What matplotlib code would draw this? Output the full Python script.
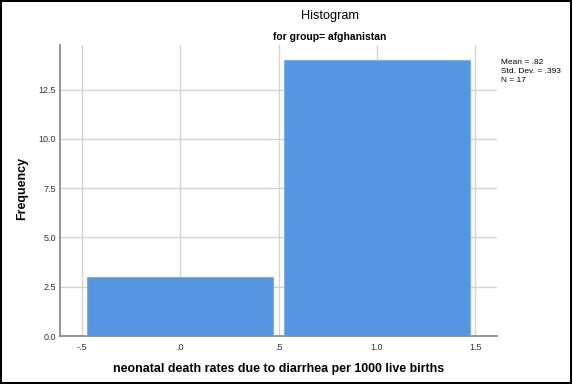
import numpy as np
import matplotlib
matplotlib.use('Agg')
import matplotlib.pyplot as plt
import matplotlib as mpl

mpl.rc('font', family='Liberation Sans')

bin_centers = [0.0, 1.0]
counts = [3, 14]
xticks = [-0.5, 0.0, 0.5, 1.0, 1.5]
xtick_labels = ['-.5', '.0', '.5', '1.0', '1.5']
yticks = [0.0, 2.5, 5.0, 7.5, 10.0, 12.5]
ytick_labels = ['0.0', '2.5', '5.0', '7.5', '10.0', '12.5']
stats_text = 'Mean = .82\nStd. Dev. = .393\nN = 17'

W, H = 573, 384
fig = plt.figure(figsize=(W/100, H/100), dpi=100)
ax = fig.add_axes([60.3/W, 1-336/H, (496.7-60.3)/W, (336-45)/H])

ax.bar(bin_centers, counts, width=0.945, color='#5596e3', edgecolor='#7aaeea', linewidth=0.8, zorder=3)

ax.set_xlim(-0.609, 1.609)
ax.set_ylim(0, 14.76)
ax.set_xticks(xticks)
ax.set_xticklabels(xtick_labels, fontsize=6.5, color='#333333')
ax.set_yticks(yticks)
ax.set_yticklabels(ytick_labels, fontsize=6.5, color='#333333')
ax.tick_params(axis='x', length=0, pad=5)
ax.tick_params(axis='y', length=0, pad=3.3)
ax.grid(True, color='#d4d4d4', linewidth=1, zorder=0)

for s in ['top', 'right']:
    ax.spines[s].set_visible(False)
for s in ['left', 'bottom']:
    ax.spines[s].set_color('#8c8c8c')
    ax.spines[s].set_linewidth(1.3)

fig.text(330/W, 1-16/H, 'Histogram', ha='center', va='center', fontsize=9.2)
fig.text(330/W, 1-37/H, 'for group= afghanistan', ha='center', va='center', fontsize=7.5, fontweight='bold')
fig.text(501/W, 1-59/H, stats_text, ha='left', va='top', fontsize=6, linespacing=1.4)
fig.text(279/W, 1-369/H, 'neonatal death rates due to diarrhea per 1000 live births', ha='center', va='center', fontsize=8.9, fontweight='bold')
fig.text(22/W, 1-188/H, 'Frequency', ha='center', va='center', rotation=90, fontsize=9, fontweight='bold')

# outer frame
fig.patches.append(plt.Rectangle((0.001, 0.002), 0.996, 0.996, transform=fig.transFigure,
                                 fill=False, edgecolor='black', linewidth=1.5))

fig.savefig('out.png', dpi=100)
